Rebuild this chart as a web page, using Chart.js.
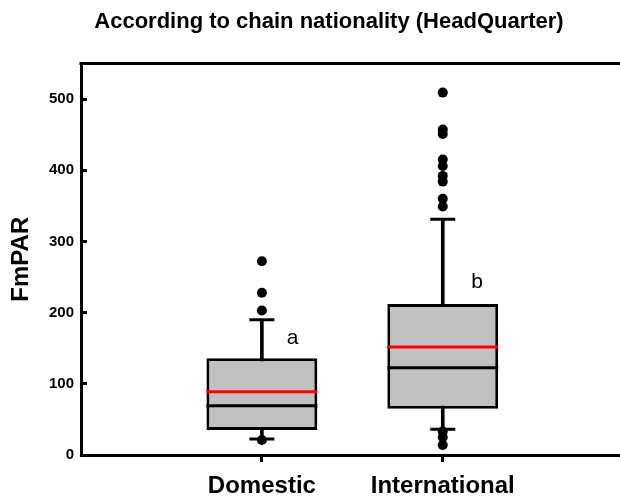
<!DOCTYPE html>
<html>
<head>
<meta charset="utf-8">
<script src="https://cdn.jsdelivr.net/npm/chart.js@4.4.1/dist/chart.umd.min.js"></script>
<style>
  html, body { margin:0; padding:0; overflow:hidden; background:#fff; }
</style>
</head>
<body>
<canvas id="box" width="658" height="501"></canvas>
<script>
// categories and box statistics
const groups = ['Domestic','International'];
const q1 = [35, 65];
const q3 = [136, 212];
const median = [69, 122.6];
const mean = [89, 151.7];
const whiskerLow = [22.5, 36];
const whiskerHigh = [190, 331];
const outliersDomestic = [272, 228, 203, 21];
const outliersInternational = [509, 457, 451, 415, 406, 392, 384, 360, 349, 33, 25, 14];
const yTicks = [0, 100, 200, 300, 400, 500];
// significance letters
const letters = ['a','b'];
const letterX = [1.17, 2.19];
const letterY = [164, 242];

Chart.defaults.font.family = "'Liberation Sans', Arial, sans-serif";
Chart.defaults.color = '#000';

const at = (arr) => arr.map((v,i) => ({x:i+1, y:v}));

// top frame + letters
const extras = {
  id:'extras',
  afterDatasetsDraw(chart){
    const {ctx, chartArea, scales} = chart;
    ctx.save();
    ctx.strokeStyle = '#000';
    ctx.lineWidth = 3;
    ctx.beginPath();
    ctx.moveTo(chartArea.left - 1.5, chartArea.top);
    ctx.lineTo(chartArea.right, chartArea.top);
    ctx.stroke();
    ctx.fillStyle = '#000';
    ctx.font = "21px 'Liberation Sans', Arial, sans-serif";
    ctx.textAlign = 'center';
    ctx.textBaseline = 'middle';
    letters.forEach((l,i) => {
      ctx.fillText(l, scales.x.getPixelForValue(letterX[i]), scales.y.getPixelForValue(letterY[i]));
    });
    ctx.restore();
  }
};

new Chart(document.getElementById('box'),{
  type:'bar',
  data:{
    datasets:[
      // whiskers
      {
        data: groups.map((g,i) => ({x:i+1, y:[whiskerLow[i], whiskerHigh[i]]})),
        backgroundColor:'#000',
        borderWidth:0,
        barThickness:3,
        grouped:false,
        order:5
      },
      // boxes
      {
        data: groups.map((g,i) => ({x:i+1, y:[q1[i], q3[i]]})),
        backgroundColor:'#c0c0c0',
        borderColor:'#000',
        borderWidth:3,
        borderSkipped:false,
        categoryPercentage:1,
        barPercentage:0.613,
        grouped:false,
        order:4
      },
      // whisker caps
      {
        type:'scatter',
        data: at(whiskerLow).concat(at(whiskerHigh)),
        pointStyle:'line',
        pointRadius:12.5,
        pointBorderWidth:3,
        pointBorderColor:'#000',
        order:3
      },
      // median
      {
        type:'scatter',
        data: at(median),
        pointStyle:'line',
        pointRadius:55.5,
        pointBorderWidth:3,
        pointBorderColor:'#000',
        order:2
      },
      // mean
      {
        type:'scatter',
        data: at(mean),
        pointStyle:'line',
        pointRadius:55.5,
        pointBorderWidth:3,
        pointBorderColor:'#ff0000',
        order:2
      },
      // outliers
      {
        type:'scatter',
        data: outliersDomestic.map(v => ({x:1, y:v})).concat(outliersInternational.map(v => ({x:2, y:v}))),
        pointRadius:5,
        pointBackgroundColor:'#000',
        pointBorderColor:'#000',
        pointBorderWidth:0,
        order:1
      }
    ]
  },
  options:{
    responsive:false,
    devicePixelRatio:1,
    animation:false,
    layout:{padding:0, autoPadding:false},
    plugins:{
      legend:{display:false},
      tooltip:{enabled:false},
      title:{
        display:true,
        text:'According to chain nationality (HeadQuarter)',
        font:{size:22, weight:'bold'},
        color:'#000',
        padding:{top:9, bottom:28}
      }
    },
    scales:{
      x:{
        type:'linear',
        min:0,
        max:3.19,
        offset:false,
        afterBuildTicks: s => { s.ticks = groups.map((g,i) => ({value:i+1})); },
        afterFit: s => { s.height = 46; s.paddingLeft = 0; s.paddingRight = 0; },
        ticks:{
          callback: v => groups[v-1],
          font:{size:24, weight:'bold'},
          color:'#000',
          padding:10,
          maxRotation:0,
          autoSkip:false
        },
        grid:{offset:false, drawOnChartArea:false, drawTicks:true, tickLength:7, tickWidth:3, tickColor:'#000'},
        border:{display:true, color:'#000', width:3}
      },
      y:{
        min:0,
        max:550,
        afterBuildTicks: s => { s.ticks = yTicks.map(v => ({value:v})); },
        afterFit: s => { s.width = 81; },
        ticks:{
          font:{size:15, weight:'bold'},
          color:'#000',
          padding:13
        },
        title:{
          display:true,
          text:'FmPAR',
          font:{size:24, weight:'bold'},
          color:'#000',
          padding:{top:7, bottom:0}
        },
        grid:{drawOnChartArea:false, drawTicks:true, tickLength:-6, tickWidth:3, tickColor:'#000'},
        border:{display:true, color:'#000', width:3}
      }
    }
  },
  plugins:[extras]
});
</script>
</body>
</html>
